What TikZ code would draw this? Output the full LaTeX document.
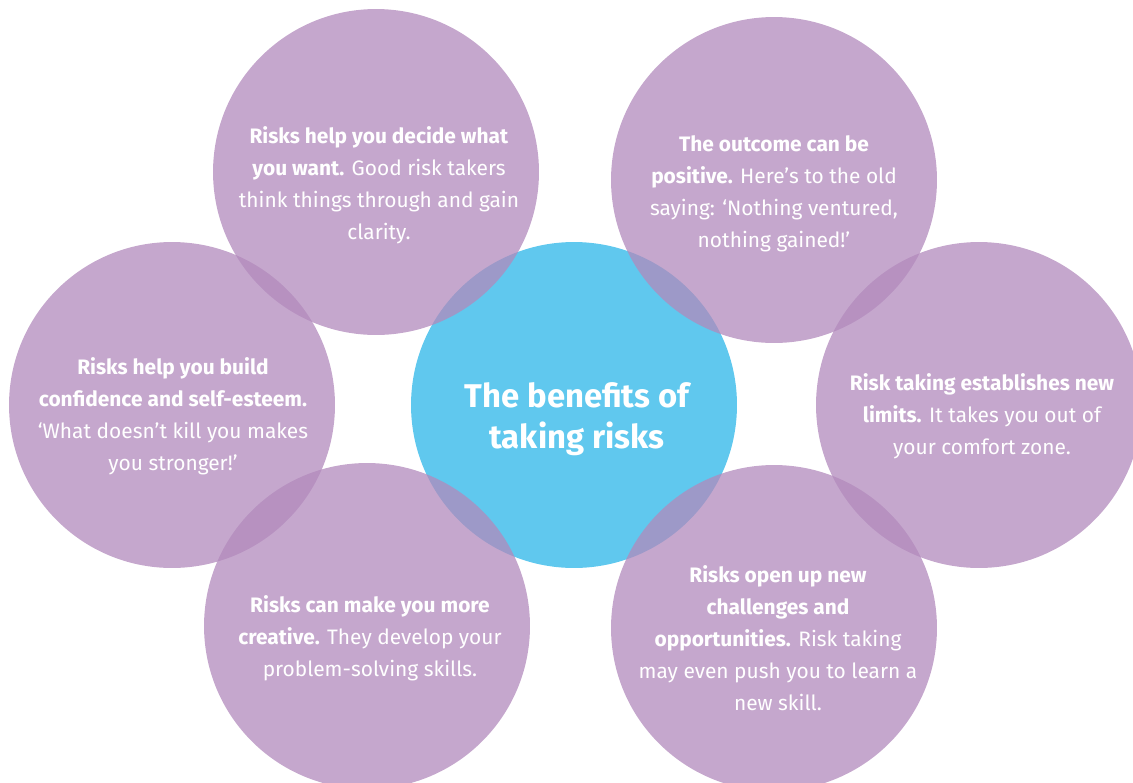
\documentclass[tikz,border=0pt]{standalone}
\usepackage{fontspec}
\setmainfont{Fira Sans}
\usepackage{tikz}
\usetikzlibrary{calc}

\definecolor{riskblue}{RGB}{96,200,238}
\definecolor{riskpurple}{RGB}{178,138,188}

\tikzset{
  hub/.style={circle, fill=riskblue, minimum size=6.52cm, inner sep=0pt},
  bubble/.style={circle, fill=riskpurple, fill opacity=0.75, minimum size=6.52cm, inner sep=0pt},
  blurb/.style={text=white, align=center, font=\fontsize{11.9}{18.2}\selectfont},
  title/.style={text=white, align=center, font=\fontsize{18.7}{23}\selectfont\bfseries}
}

\begin{document}
\begin{tikzpicture}[x=0.02cm, y=-0.02cm]
        \useasboundingbox (0,0) rectangle (1133,782);
        % centre disc first, the six bubbles go over it
        \node[hub] (hub) at (574,405) {};
        \node[bubble] (tl) at (376,172) {};
        \node[bubble] (tr) at (774,180) {};
        \node[bubble] (l) at (172,405) {};
        \node[bubble] (r) at (979,405) {};
        \node[bubble] (bl) at (367,626) {};
        \node[bubble] (br) at (774,628) {};
        % texts
        \node[title] (hubtext) at (577,419) {The benefits of\\taking risks};
        \node[blurb] (tltext) at (379,185) {\textbf{Risks help you decide what}\\\textbf{you want.} Good risk takers\\think things through and gain\\clarity.};
        \node[blurb] (trtext) at (774,194) {\textbf{The outcome can be}\\\textbf{positive.} Here’s to the old\\saying: ‘Nothing ventured,\\nothing gained!’};
        \node[blurb] (ltext) at (173,416) {\textbf{Risks help you build}\\\textbf{confidence and self-esteem.}\\‘What doesn’t kill you makes\\you stronger!’};
        \node[blurb] (rtext) at (982,416) {\textbf{Risk taking establishes new}\\\textbf{limits.} It takes you out of\\your comfort zone.};
        \node[blurb] (bltext) at (370,638) {\textbf{Risks can make you more}\\\textbf{creative.} They develop your\\problem-solving skills.};
        \node[blurb] (brtext) at (778,638) {\textbf{Risks open up new}\\\textbf{challenges and}\\\textbf{opportunities.} Risk taking\\may even push you to learn a\\new skill.};
\end{tikzpicture}
\end{document}
